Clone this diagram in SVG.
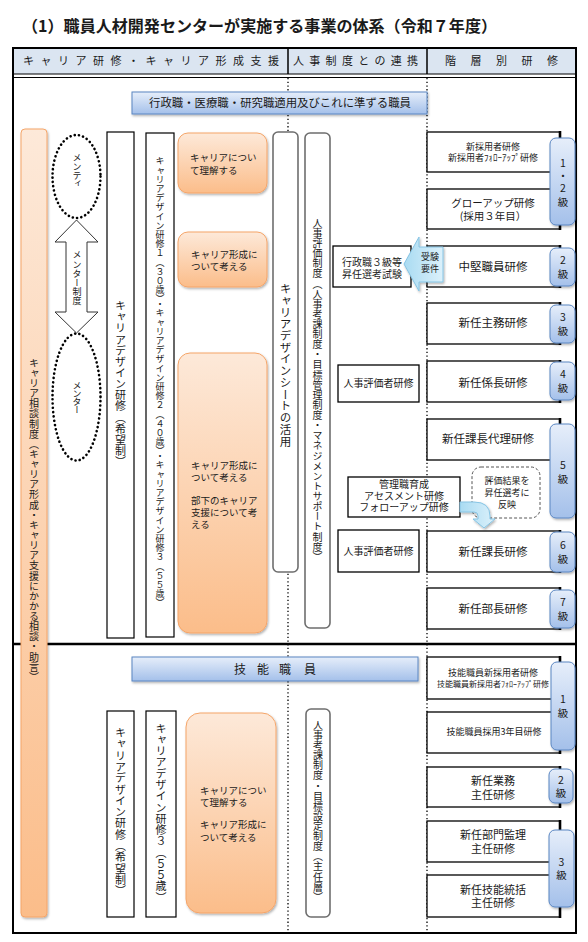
<svg xmlns="http://www.w3.org/2000/svg" width="588" height="942" viewBox="0 0 588 942">
<defs>
<linearGradient id="gO" x1="0" y1="0" x2="0" y2="1"><stop offset="0" stop-color="#fde9d9"/><stop offset="1" stop-color="#fbbd8a"/></linearGradient>
<linearGradient id="gB" x1="0" y1="0" x2="0" y2="1"><stop offset="0" stop-color="#e6eefa"/><stop offset="1" stop-color="#a4c0ea"/></linearGradient>
<linearGradient id="gC" x1="0" y1="0" x2="1" y2="0"><stop offset="0" stop-color="#a9dbf2"/><stop offset="1" stop-color="#dcf1fb"/></linearGradient>
<filter id="sh" x="-20%" y="-20%" width="150%" height="150%"><feDropShadow dx="1" dy="1.5" stdDeviation="1" flood-color="#000" flood-opacity="0.3"/></filter>
</defs>
<style>
text{font-family:"Noto Sans CJK JP","Noto Sans",sans-serif;fill:#1a1a1a}
.v{writing-mode:vertical-rl;text-anchor:middle}
.c{text-anchor:middle}
.box{fill:#fff;stroke:#000;stroke-width:1.2}
.rb{fill:#fff;stroke:#000;stroke-width:1.3}
.rr{fill:#fff;stroke:#6e6e6e;stroke-width:1.6}
.ob{fill:url(#gO);stroke:#f5a569;stroke-width:1;filter:url(#sh)}
.bb{fill:url(#gB);stroke:#5a86c2;stroke-width:1;filter:url(#sh)}
.bd{fill:url(#gB);stroke:#5a86c2;stroke-width:1;filter:url(#sh)}
.dot{stroke:#000;stroke-width:1.3;stroke-dasharray:1.3 2.4;fill:none}
.ell{fill:#fff;stroke:#000;stroke-width:2.6;stroke-dasharray:0.1 4.2;stroke-linecap:round}
.edge{stroke:#000;stroke-width:2.6}
.arr{fill:url(#gC);stroke:#86c4e4;stroke-width:1;filter:url(#sh)}
.f9{font-size:9px}
.f95{font-size:9.5px}
.f10{font-size:10px}
.f105{font-size:10.5px}
.f11{font-size:11px}
.f115{font-size:11.5px}
</style>

<text x="22" y="32" font-size="16" font-weight="bold" textLength="475" lengthAdjust="spacingAndGlyphs">（1）職員人材開発センターが実施する事業の体系（令和７年度）</text>

<g id="frame">
<rect x="13" y="48" width="563" height="26" fill="#dbe5f1"/>
<rect x="13" y="48" width="563" height="885" fill="none" stroke="#000" stroke-width="2"/>
<line x1="13" y1="74" x2="576" y2="74" stroke="#000" stroke-width="1.2"/>
<line x1="13" y1="77.5" x2="576" y2="77.5" stroke="#000" stroke-width="1.2"/>
<line x1="288" y1="48" x2="288" y2="74" stroke="#000" stroke-width="1.5"/>
<line x1="427" y1="48" x2="427" y2="74" stroke="#000" stroke-width="1.5"/>
<text x="23" y="65" class="f11" textLength="256" lengthAdjust="spacing">キャリア研修・キャリア形成支援</text>
<text x="293" y="65" class="f11" textLength="125" lengthAdjust="spacing">人事制度との連携</text>
<text x="445" y="65" class="f11" textLength="113" lengthAdjust="spacing">階層別研修</text>
<line x1="288" y1="78" x2="288" y2="932" class="dot"/>
<line x1="427" y1="78" x2="427" y2="932" class="dot"/>
<line x1="13" y1="644" x2="576" y2="644" stroke="#000" stroke-width="2.5"/>
</g>

<g id="n-soudan">
<rect x="21" y="129" width="26" height="788" rx="4" class="ob"/>
<text x="34" y="520" class="v f10" textLength="324" lengthAdjust="spacing">キャリア相談制度（キャリア形成・キャリア支援にかかる相談・助言）</text>
</g>

<g id="n-mentee">
<ellipse cx="76.5" cy="176.5" rx="24" ry="41.5" class="ell"/>
<text x="77" y="171" class="v f9" textLength="35" lengthAdjust="spacing">メンティ</text>
</g>
<g id="n-mentor">
<ellipse cx="76.5" cy="397" rx="24" ry="63.5" class="ell"/>
<text x="77" y="398" class="v f9" textLength="33" lengthAdjust="spacing">メンター</text>
</g>

<g id="n-cd-kibou">
<rect x="107" y="132" width="27" height="506" class="box"/>
<text x="120.5" y="384" class="v f11" textLength="167" lengthAdjust="spacing">キャリアデザイン研修（希望制）</text>
</g>
<g id="n-cd123">
<rect x="146" y="133" width="28" height="504" class="box"/>
<text x="160" y="382" class="v f9" textLength="451" lengthAdjust="spacing">キャリアデザイン研修１（３０歳）・キャリアデザイン研修２（４０歳）・キャリアデザイン研修３（５５歳）</text>
</g>

<g id="n-o1">
<rect x="178" y="133" width="89" height="60" rx="10" class="ob"/>
<text x="190" y="160.6" class="f95">キャリアについ</text>
<text x="190" y="173.6" class="f95">て理解する</text>
</g>
<g id="n-o2">
<rect x="178" y="232" width="89" height="55" rx="10" class="ob"/>
<text x="191" y="257.6" class="f95">キャリア形成に</text>
<text x="191" y="269.6" class="f95">ついて考える</text>
</g>
<g id="n-o3">
<rect x="178" y="353" width="89" height="280" rx="12" class="ob"/>
<text x="191" y="468.6" class="f95">キャリア形成に</text>
<text x="191" y="480.6" class="f95">ついて考える</text>
<text x="191" y="503.6" class="f95">部下のキャリア</text>
<text x="191" y="515.6" class="f95">支援について考</text>
<text x="191" y="527.6" class="f95">える</text>
</g>

<g id="n-sheet">
<rect x="273" y="132" width="25" height="440" rx="5" class="rr"/>
<text x="285.5" y="365" class="v f115" textLength="164" lengthAdjust="spacing">キャリアデザインシートの活用</text>
</g>
<g id="n-hyouka">
<rect x="305" y="133" width="25" height="495" rx="5" class="rr"/>
<text x="317.5" y="390" class="v f10" textLength="344" lengthAdjust="spacing">人事評価制度（人事考課制度・目標管理制度・マネジメントサポート制度）</text>
</g>

<g id="n-top-banner">
<rect x="132" y="92" width="295" height="22" class="bb"/>
<text x="280" y="107.4" class="c" font-size="11.4">行政職・医療職・研究職適用及びこれに準ずる職員</text>
</g>

<g id="n-shounin">
<rect x="333" y="246" width="78" height="41" class="rb"/>
<text x="372" y="265.5" class="c f10">行政職３級等</text>
<text x="372" y="278" class="c f10">昇任選考試験</text>
</g>

<g id="n-hyoukasha1">
<rect x="338" y="365" width="81" height="37" class="rb"/>
<text x="378.5" y="386.8" class="c f10">人事評価者研修</text>
</g>
<g id="n-hyoukasha2">
<rect x="338" y="530" width="81" height="42" class="rb"/>
<text x="378.5" y="554.8" class="c f10">人事評価者研修</text>
</g>
<g id="n-assess">
<rect x="348" y="477" width="112" height="40" class="rb"/>
<text x="404" y="488" class="c f10">管理職育成</text>
<text x="404" y="499.5" class="c f10">アセスメント研修</text>
<text x="404" y="511" class="c f10">フォローアップ研修</text>
</g>
<g id="n-hanei">
<rect x="472" y="467" width="68" height="51" rx="9" fill="#fff" stroke="#555" stroke-width="1" stroke-dasharray="3 2"/>
<text x="507" y="484.4" class="c f9">評価結果を</text>
<text x="507" y="496.4" class="c f9">昇任選考に</text>
<text x="507" y="508.4" class="c f9">反映</text>
</g>

<g id="n-r1"><rect x="427" y="132" width="133" height="40" class="rb"/><line x1="560" y1="131" x2="560" y2="173" class="edge"/>
<text x="493" y="150.4" class="c f9">新採用者研修</text><text x="493" y="161.4" class="c f9">新採用者ﾌｫﾛｰｱｯﾌﾟ研修</text></g>
<g id="n-r2"><rect x="427" y="189" width="133" height="40" class="rb"/><line x1="560" y1="188" x2="560" y2="230" class="edge"/>
<text x="493" y="207" class="c f105">グローアップ研修</text><text x="493" y="220" class="c f105">(採用３年目）</text></g>
<g id="n-r3"><rect x="427" y="246" width="133" height="41" class="rb"/><line x1="560" y1="245" x2="560" y2="288" class="edge"/>
<text x="493" y="271.4" class="c f115">中堅職員研修</text></g>
<g id="n-r4"><rect x="427" y="303" width="133" height="41" class="rb"/><line x1="560" y1="302" x2="560" y2="345" class="edge"/>
<text x="493" y="327.4" class="c f115">新任主務研修</text></g>
<g id="n-r5"><rect x="427" y="361" width="133" height="41" class="rb"/><line x1="560" y1="360" x2="560" y2="403" class="edge"/>
<text x="493" y="387.4" class="c f115">新任係長研修</text></g>
<g id="n-r6"><rect x="427" y="419" width="133" height="41" class="rb"/><line x1="560" y1="418" x2="560" y2="461" class="edge"/>
<text x="488" y="443.4" class="c f115">新任課長代理研修</text></g>
<g id="n-r7"><rect x="427" y="531" width="133" height="41" class="rb"/><line x1="560" y1="530" x2="560" y2="573" class="edge"/>
<text x="493" y="556.4" class="c f115">新任課長研修</text></g>
<g id="n-r8"><rect x="427" y="588" width="133" height="41" class="rb"/><line x1="560" y1="587" x2="560" y2="630" class="edge"/>
<text x="493" y="613.4" class="c f115">新任部長研修</text></g>

<g id="n-b12"><rect x="550" y="138" width="25" height="87" rx="6" class="bd"/>
<text x="563" y="167.4" class="c f105">1</text><text x="563" y="179.6" class="c f105">・</text><text x="563" y="192.4" class="c f105">2</text><text x="563" y="206.4" class="c f105">級</text></g>
<g id="n-b2"><rect x="550" y="248" width="25" height="38" rx="6" class="bd"/>
<text x="563" y="264.4" class="c f105">2</text><text x="563" y="278.4" class="c f105">級</text></g>
<g id="n-b3"><rect x="550" y="305" width="25" height="38" rx="6" class="bd"/>
<text x="563" y="321.4" class="c f105">3</text><text x="563" y="335.4" class="c f105">級</text></g>
<g id="n-b4"><rect x="550" y="362" width="25" height="38" rx="6" class="bd"/>
<text x="563" y="378.4" class="c f105">4</text><text x="563" y="392.4" class="c f105">級</text></g>
<g id="n-b5"><rect x="550" y="424" width="25" height="94" rx="6" class="bd"/>
<text x="563" y="469.4" class="c f105">5</text><text x="563" y="483.4" class="c f105">級</text></g>
<g id="n-b6"><rect x="550" y="532" width="25" height="40" rx="6" class="bd"/>
<text x="563" y="549.4" class="c f105">6</text><text x="563" y="563.4" class="c f105">級</text></g>
<g id="n-b7"><rect x="550" y="590" width="25" height="38" rx="6" class="bd"/>
<text x="563" y="606.4" class="c f105">7</text><text x="563" y="620.4" class="c f105">級</text></g>

<g id="n-ginou-banner">
<rect x="132" y="657" width="286" height="24" class="bb"/>
<text y="673.6" font-size="12" x="234 257 279 304">技能職員</text>
</g>
<g id="n-cd-kibou2">
<rect x="107" y="711" width="27" height="206" class="box"/>
<text x="120.5" y="812" class="v f11" textLength="169" lengthAdjust="spacing">キャリアデザイン研修（希望制）</text>
</g>
<g id="n-cd3">
<rect x="146" y="711" width="30" height="206" class="box"/>
<text x="161" y="813" class="v f11" textLength="180" lengthAdjust="spacing">キャリアデザイン研修３（５５歳）</text>
</g>
<g id="n-o4">
<rect x="186" y="713" width="90" height="200" rx="14" class="ob"/>
<text x="200" y="793.6" class="f95">キャリアについ</text>
<text x="200" y="805.6" class="f95">て理解する</text>
<text x="200" y="827.6" class="f95">キャリア形成に</text>
<text x="200" y="840.6" class="f95">ついて考える</text>
</g>
<g id="n-kouka">
<rect x="306" y="709" width="24" height="208" rx="5" class="rr"/>
<text x="318" y="811" class="v f10" textLength="182" lengthAdjust="spacing">人事考課制度・目標設定制度（主任層）</text>
</g>

<g id="n-g1"><rect x="427" y="657" width="133" height="42" class="rb"/><line x1="560" y1="656" x2="560" y2="700" class="edge"/>
<text x="493" y="676" class="c f9">技能職員新採用者研修</text><text x="493" y="686.5" class="c" font-size="8">技能職員新採用者ﾌｫﾛｰｱｯﾌﾟ研修</text></g>
<g id="n-g2"><rect x="427" y="712" width="133" height="41" class="rb"/><line x1="560" y1="711" x2="560" y2="754" class="edge"/>
<text x="494" y="735.4" class="c f9">技能職員採用3年目研修</text></g>
<g id="n-g3"><rect x="427" y="767" width="133" height="40" class="rb"/><line x1="560" y1="766" x2="560" y2="808" class="edge"/>
<text x="493" y="785" class="c f11">新任業務</text><text x="493" y="798.5" class="c f11">主任研修</text></g>
<g id="n-g4"><rect x="427" y="821" width="133" height="41" class="rb"/><line x1="560" y1="820" x2="560" y2="863" class="edge"/>
<text x="493" y="839" class="c f11">新任部門監理</text><text x="493" y="852.5" class="c f11">主任研修</text></g>
<g id="n-g5"><rect x="427" y="875" width="133" height="42" class="rb"/><line x1="560" y1="874" x2="560" y2="918" class="edge"/>
<text x="493" y="893.5" class="c f11">新任技能統括</text><text x="493" y="907" class="c f11">主任研修</text></g>

<g id="n-gb1"><rect x="551" y="662" width="24" height="88" rx="6" class="bd"/>
<text x="563" y="703.4" class="c f105">1</text><text x="563" y="717.4" class="c f105">級</text></g>
<g id="n-gb2"><rect x="549" y="769" width="24" height="34" rx="6" class="bd"/>
<text x="561" y="784.4" class="c f105">2</text><text x="561" y="797.4" class="c f105">級</text></g>
<g id="n-gb3"><rect x="549" y="830" width="25" height="77" rx="6" class="bd"/>
<text x="561.5" y="866.4" class="c f105">3</text><text x="561.5" y="879.4" class="c f105">級</text></g>

<g id="connectors">
<path d="M76.5,220 L98,242 L87,242 L87,312 L98,312 L76.5,333 L55,312 L66,312 L66,242 L55,242 Z" fill="#fff" stroke="#333" stroke-width="1"/>
<text x="77" y="278" class="v f9" textLength="55" lengthAdjust="spacing">メンター制度</text>
<path d="M404,264 L419,237 L419,247 L443,247 L443,282 L419,282 L419,291 Z" class="arr"/>
<text x="430" y="260.4" class="c f9">受験</text>
<text x="430" y="272.4" class="c f9">要件</text>
<path d="M460,502 L474,502 Q490,502 490,516 L490,519 L495,519 L484,528 L473,519 L478,519 L478,516 Q478,512 474,512 L460,512 Z" class="arr"/>
</g>
</svg>
